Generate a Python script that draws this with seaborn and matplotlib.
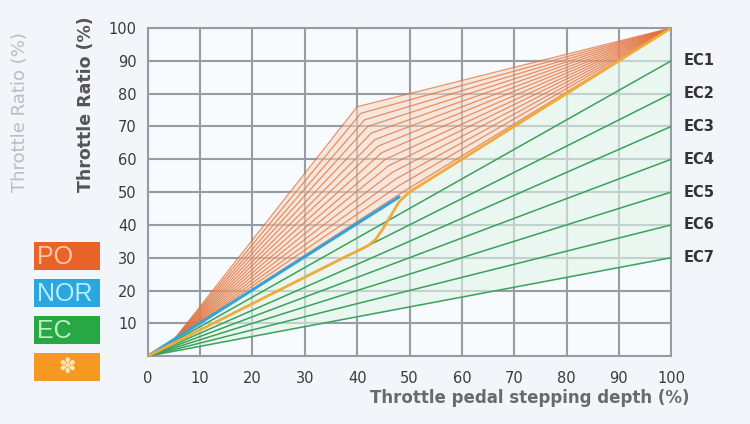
import matplotlib
matplotlib.use("Agg")
import matplotlib.pyplot as plt
from matplotlib.patches import Rectangle
import seaborn as sns
import pandas as pd
import numpy as np

# ---------------- data ----------------
x_ticks = [0, 10, 20, 30, 40, 50, 60, 70, 80, 90, 100]
y_ticks = [10, 20, 30, 40, 50, 60, 70, 80, 90, 100]

# EC lines: straight from origin to (100, end)
ec_names = ["EC1", "EC2", "EC3", "EC4", "EC5", "EC6", "EC7"]
ec_end = [90, 80, 70, 60, 50, 40, 30]

# NOR line
nor_x = [0, 48]
nor_y = [0, 48.5]

# "*" (orange) curve
star_x = [0, 20, 38, 40, 42, 43.5, 45, 46.5, 48, 50, 100]
star_y = [0, 16, 30.5, 32, 33.6, 35.5, 39, 43, 47, 50, 100]

# PO fan: each line (0,0) -> (5,5) -> kink -> (100,100)
po_start = (5, 5)
po_kink_x = [40, 40.7, 41.4, 42.0, 42.7, 43.4, 44.0, 44.7, 45.4, 46.0, 46.7, 47.4, 48.0, 48.7]
po_kink_y = [76, 74, 72, 70, 68, 66, 64, 62, 60, 58, 56, 54, 52, 50]

legend_labels = ["PO", "NOR", "EC", "\u273d"]

# ---------------- style ----------------
sns.set_style("white")
plt.rcParams["font.family"] = ["DejaVu Sans"]

fig = plt.figure(figsize=(7.5, 4.24), dpi=100)
fig.patch.set_facecolor("#f2f6fa")
ax = fig.add_axes([0.197, 0.160, 0.698, 0.774])
ax.set_facecolor("#f8fbfd")

# fills
ax.fill_between([0, 100], [0, ec_end[-1]], [0, 100], color="#e2f5e8", alpha=0.6, lw=0, zorder=1)
top_x = [0, po_start[0], po_kink_x[0], 100]
top_y = [0, po_start[1], po_kink_y[0], 100]
ax.fill_between(top_x, top_x, top_y, color="#f6d5c0", alpha=0.55, lw=0, zorder=1)

# green EC lines
for name, e in zip(ec_names, ec_end):
    df = pd.DataFrame({"x": [0, 100], "y": [0, e]})
    sns.lineplot(data=df, x="x", y="y", ax=ax, color="#3aa15a", lw=1.1,
                 estimator=None, sort=False, zorder=3)

# PO fan
for kx, ky in zip(po_kink_x, po_kink_y):
    df = pd.DataFrame({"x": [0, po_start[0], kx, 100], "y": [0, po_start[1], ky, 100]})
    sns.lineplot(data=df, x="x", y="y", ax=ax, color="#e2703c", lw=0.9, alpha=0.75,
                 estimator=None, sort=False, zorder=4)

# NOR
sns.lineplot(data=pd.DataFrame({"x": nor_x, "y": nor_y}), x="x", y="y", ax=ax,
             color="#35a3d6", lw=2.2, estimator=None, sort=False, zorder=5)
# star curve
sns.lineplot(data=pd.DataFrame({"x": star_x, "y": star_y}), x="x", y="y", ax=ax,
             color="#f0ab3c", lw=2.0, estimator=None, sort=False, zorder=5)

# axes
ax.set_xlim(0, 100)
ax.set_ylim(0, 100)
ax.set_xticks(x_ticks)
ax.set_yticks(y_ticks)
ax.set_xticklabels([str(v) for v in x_ticks])
ax.set_yticklabels([str(v) for v in y_ticks])
ax.grid(True, color="#969ca4", lw=1.5, zorder=0)
ax.set_axisbelow(True)
for s in ax.spines.values():
    s.set_color("#969ca4")
    s.set_linewidth(1.5)
ax.tick_params(axis="both", length=0, labelsize=10.5, colors="#3a3a3a")
ax.tick_params(axis="x", pad=11)
ax.tick_params(axis="y", pad=8)
ax.set_xlabel("")
ax.set_ylabel("")

# EC labels
for name, e in zip(ec_names, ec_end):
    ax.text(102.3, e, name, ha="left", va="center", fontsize=10.5,
            fontweight="bold", color="#333333", clip_on=False)

# axis titles
fig.text(0.706, 0.061, "Throttle pedal stepping depth (%)", ha="center", va="center",
         fontsize=12, fontweight="bold", color="#6a6a6a")
fig.text(0.115, 0.755, "Throttle Ratio (%)", ha="center", va="center", rotation=90,
         fontsize=12.5, fontweight="bold", color="#555555")
fig.text(0.027, 0.735, "Throttle Ratio (%)", ha="center", va="center", rotation=90,
         fontsize=13, color="#b8bcc4")

# legend boxes
box_cols = ["#e8622a", "#2aa7df", "#27a844", "#f49a20"]
txt_cols = ["#ffc9a6", "#b9ecff", "#b9f3c4", "#ffe6b8"]
box_tops = [242, 279, 316, 353]
for lab, bc, tc, top in zip(legend_labels, box_cols, txt_cols, box_tops):
    x0 = 34 / 750
    w = 66 / 750
    h = 28 / 424
    y0 = 1 - (top + 28) / 424
    fig.patches.append(Rectangle((x0, y0), w, h, transform=fig.transFigure,
                                 facecolor=bc, edgecolor="none"))
    if lab == "\u273d":
        fig.text(x0 + w / 2, y0 + h / 2, lab, ha="center", va="center",
                 fontsize=15, color=tc, fontweight="bold")
    else:
        fig.text(x0 + 3 / 750, y0 + h / 2 - 0.002, lab, ha="left", va="center",
                 fontsize=18, color=tc, family=["Liberation Sans", "DejaVu Sans"])

fig.savefig("out.png", dpi=100, facecolor=fig.get_facecolor())
